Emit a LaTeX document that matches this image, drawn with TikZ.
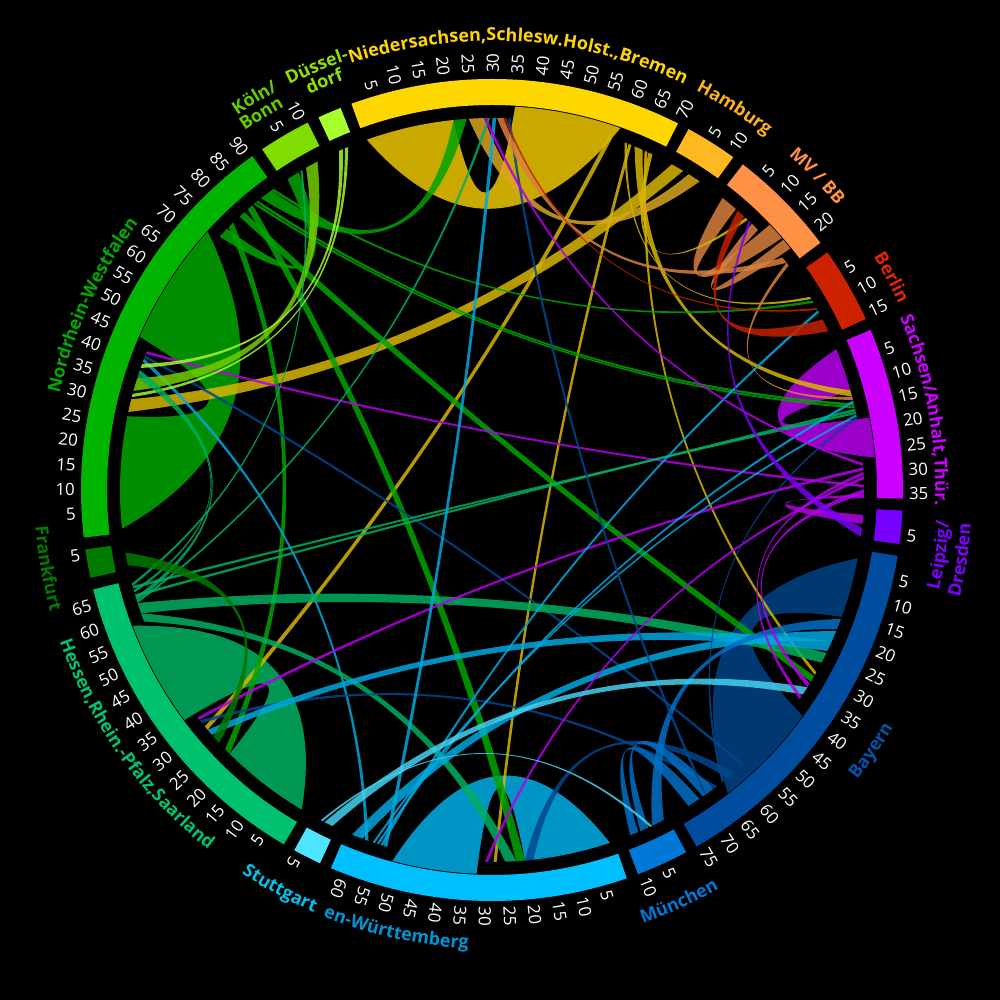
\documentclass[tikz,border=0pt]{standalone}
\usepackage{fontspec}
\setsansfont{Open Sans}
\usetikzlibrary{calc,decorations.text}

\definecolor{cNI}{HTML}{FFD700}
\definecolor{cHH}{HTML}{FFB81F}
\definecolor{cMV}{HTML}{FF9147}
\definecolor{cBE}{HTML}{CC2200}
\definecolor{cSN}{HTML}{CC00FF}
\definecolor{cLD}{HTML}{7700FF}
\definecolor{cBY}{HTML}{004C9E}
\definecolor{cMU}{HTML}{0078D7}
\definecolor{cBW}{HTML}{00BFFF}
\definecolor{cST}{HTML}{4CE4FF}
\definecolor{cHE}{HTML}{00C26E}
\definecolor{cFR}{HTML}{007A00}
\definecolor{cNW}{HTML}{00B400}
\definecolor{cKB}{HTML}{7FDD00}
\definecolor{cDU}{HTML}{A8FF2E}

\definecolor{kNI}{HTML}{D6B600}
\definecolor{sNI}{HTML}{D4B300}
\definecolor{kHH}{HTML}{D9A520}
\definecolor{kMV}{HTML}{D8803E}
\definecolor{kBE}{HTML}{C42200}
\definecolor{kSN}{HTML}{B400E6}
\definecolor{sSN}{HTML}{A400D4}
\definecolor{kLD}{HTML}{7A00F5}
\definecolor{kBY}{HTML}{00478F}
\definecolor{sBY}{HTML}{003C78}
\definecolor{kMU}{HTML}{0070C6}
\definecolor{kBW}{HTML}{00A8E0}
\definecolor{sBW}{HTML}{009ECF}
\definecolor{kST}{HTML}{45D2F0}
\definecolor{kHE}{HTML}{00AE62}
\definecolor{sHE}{HTML}{00A058}
\definecolor{kFR}{HTML}{007800}
\definecolor{kNW}{HTML}{00A400}
\definecolor{sNW}{HTML}{009600}
\definecolor{kKB}{HTML}{72CC00}
\definecolor{kDU}{HTML}{A6F530}

\definecolor{lNI}{HTML}{FFD700}
\definecolor{lHH}{HTML}{FFB31A}
\definecolor{lMV}{HTML}{FF9040}
\definecolor{lBE}{HTML}{E02800}
\definecolor{lSN}{HTML}{CC00FF}
\definecolor{lLD}{HTML}{8000FF}
\definecolor{lBY}{HTML}{0055AA}
\definecolor{lMU}{HTML}{0078D7}
\definecolor{lST}{HTML}{00C4EE}
\definecolor{lBW}{HTML}{0095D5}
\definecolor{lHE}{HTML}{00C46E}
\definecolor{lFR}{HTML}{007A00}
\definecolor{lNW}{HTML}{00AA00}
\definecolor{lKB}{HTML}{66CC00}
\definecolor{lDU}{HTML}{90E000}

\def\sNI{110}
\def\sHH{61.43}
\def\sMV{52.39}
\def\sBE{35.31}
\def\sSN{22.92}
\def\sLD{-2.87}
\def\sBY{-9.23}
\def\sMU{-61.82}
\def\sBW{-70.86}
\def\sST{-114.74}
\def\sHE{-120.43}
\def\sFR{-167.66}
\def\sNW{-173.35}
\def\sKB{-235.99}
\def\sDU{-245.03}

\tikzset{
  ch/.style={fill=#1, fill opacity=0.85},
  sf/.style={fill=#1, fill opacity=0.95},
  ticklbl/.style={text=white, inner sep=0.4pt, font=\sffamily\fontsize{4.8}{5}\selectfont},
  lbl/.style 2 args={decorate, decoration={text along path, text align=center,
    text={|\sffamily\bfseries\fontsize{5.1}{6}\selectfont\color{#1}|#2}}}
}

\newcommand{\ribbon}[8][3.72]{%
  \pgfmathsetmacro{\aA}{\csname s#3\endcsname-0.67*#4}%
  \pgfmathsetmacro{\aB}{\csname s#3\endcsname-0.67*#5}%
  \pgfmathsetmacro{\bA}{\csname s#6\endcsname-0.67*#7}%
  \pgfmathsetmacro{\bB}{\csname s#6\endcsname-0.67*#8}%
  \fill[#2] (\aA:#1) arc[start angle=\aA, end angle=\aB, radius=#1]
    .. controls ($0.527*(\aB:#1)+0.193*(\bA:3.72)$) and ($0.193*(\aB:#1)+0.527*(\bA:3.72)$) .. (\bA:3.72)
    arc[start angle=\bA, end angle=\bB, radius=3.72]
    .. controls ($0.527*(\bB:3.72)+0.193*(\aA:#1)$) and ($0.193*(\bB:3.72)+0.527*(\aA:#1)$) .. (\aA:#1);%
}

\begin{document}
\begin{tikzpicture}
        \fill[black] (-4.92,-5.10) rectangle (5.08,4.90);
        \useasboundingbox (-4.92,-5.10) rectangle (5.08,4.90);

        \foreach \sg/\len in {NI/70,HH/11,MV/23,BE/16,SN/36,LD/7,BY/76,MU/11,BW/63,ST/6,HE/68,FR/6,NW/91,KB/11,DU/5}{
            \pgfmathsetmacro{\segA}{\csname s\sg\endcsname}
            \pgfmathsetmacro{\segB}{\segA-0.67*\len}
            \fill[c\sg] (\segA:4.11) arc[start angle=\segA, end angle=\segB, radius=4.11]
                -- (\segB:3.85) arc[start angle=\segB, end angle=\segA, radius=3.85] -- cycle;
        }

        \foreach \sg/\nt in {NI/14,HH/2,MV/4,BE/3,SN/7,LD/1,BY/15,MU/2,BW/12,ST/1,HE/13,FR/1,NW/18,KB/2}{
            \foreach \i in {1,...,\nt}{
                \pgfmathsetmacro{\ta}{\csname s\sg\endcsname-3.35*\i}
                \pgfmathtruncatemacro{\tk}{5*\i}
                \pgfmathsetmacro{\tn}{mod(\ta+720,360)}
                \pgfmathtruncatemacro{\tf}{and(\tn>90,\tn<240)}
                \ifnum\tf=1
                    \node[ticklbl, rotate=\ta+180, anchor=east] (t\sg\i) at (\ta:4.15) {\tk};
                \else
                    \node[ticklbl, rotate=\ta, anchor=west] (t\sg\i) at (\ta:4.15) {\tk};
                \fi
            }
        }

        \ribbon[3.84]{sf=sNI}{NI}{35}{59}{NI}{0.5}{21}
        \ribbon[3.84]{sf=sNW}{NW}{45}{73}{NW}{1}{27}
        \ribbon[3.84]{sf=sHE}{HE}{34}{58}{HE}{0.5}{21.5}
        \ribbon[3.84]{sf=sBW}{BW}{32}{51}{BW}{1}{21}
        \ribbon[3.84]{sf=sBY}{BY}{40}{64}{BY}{2}{16}
        \ribbon[3.84]{sf=sSN}{SN}{18}{27}{SN}{1}{11}
        \ribbon[3.84]{ch=kMV}{MV}{13}{17}{MV}{1}{5}
        \ribbon[3.84]{ch=kMV}{MV}{17.5}{20}{MV}{10}{12}

        \ribbon{ch=kNI}{NI}{57}{58}{HE}{29}{30}
        \ribbon{ch=kNI}{NI}{62}{62.7}{BW}{27.5}{28.2}
        \ribbon{ch=kNI}{NI}{66}{66.7}{BY}{30}{30.7}
        \ribbon{ch=kNI}{NI}{63.5}{65.5}{SN}{11}{12.5}
        \ribbon{ch=kNI}{NI}{61}{61.6}{BE}{6}{6.6}
        \ribbon{ch=kNI}{NI}{67}{68}{MV}{8}{8.7}
        \ribbon{ch=kNI}{NW}{28}{31}{HH}{0.5}{3.5}
        \ribbon{ch=kHH}{HH}{5}{8}{NI}{24.5}{28}

        \ribbon{ch=kNW}{NW}{87}{90}{NI}{21}{24}
        \ribbon{ch=kNW}{NW}{90}{90.6}{BE}{7}{7.6}
        \ribbon{ch=kNW}{NW}{85.5}{86.1}{SN}{14.1}{14.7}
        \ribbon{ch=kNW}{NW}{84.8}{85.3}{SN}{14.8}{15.3}
        \ribbon{ch=kNW}{NW}{83}{84.5}{BW}{21}{23}
        \ribbon{ch=kNW}{NW}{80.5}{82}{BY}{31}{32.5}
        \ribbon{ch=kNW}{NW}{77}{78.5}{HE}{21.5}{23}
        \ribbon{ch=kNW}{NW}{74}{76.5}{KB}{1}{4}

        \ribbon{ch=kSN}{SN}{33}{33.6}{NW}{42}{42.6}
        \ribbon{ch=kBY}{BY}{57}{57.6}{NW}{41}{41.6}
        \ribbon{ch=kBW}{BW}{57.5}{58.3}{NW}{40}{40.8}
        \ribbon{ch=kKB}{KB}{6}{9}{NW}{33}{36}
        \ribbon{ch=kDU}{DU}{1}{2}{NW}{38.5}{39.5}
        \ribbon{ch=kDU}{DU}{2.5}{3.3}{NW}{31.5}{32.3}
        \ribbon{ch=kHE}{HE}{63}{64}{NW}{37}{38}
        \ribbon{ch=kHE}{HE}{65}{65.6}{NW}{36.3}{36.9}

        \ribbon{ch=kHE}{HE}{60}{62.5}{BY}{25}{27.5}
        \ribbon{ch=kHE}{HE}{64}{64.6}{SN}{15.4}{16}
        \ribbon{ch=kHE}{HE}{66}{66.6}{SN}{16.1}{16.6}
        \ribbon{ch=kHE}{HE}{62.5}{63}{NI}{28.8}{29.4}
        \ribbon{ch=kHE}{HE}{58}{60}{BW}{23}{25.5}
        \ribbon{ch=kHE}{HE}{66.6}{67.2}{KB}{4.5}{5}

        \ribbon{ch=kSN}{SN}{29}{29.7}{HE}{32}{32.7}
        \ribbon{ch=kBY}{BY}{65}{65.8}{HE}{31}{31.8}
        \ribbon{ch=kBW}{HE}{27.5}{29}{BY}{22}{24.5}
        \ribbon{ch=kFR}{FR}{1}{4}{HE}{25}{27}

        \ribbon{ch=kBW}{BW}{53}{53.8}{NI}{30}{30.8}
        \ribbon{ch=kBW}{BW}{55}{55.5}{SN}{13.4}{14}
        \ribbon{ch=kBW}{BW}{54}{54.6}{BE}{9.6}{10.2}
        \ribbon{ch=kBW}{BW}{56}{56.5}{SN}{16.7}{17.2}
        \ribbon{ch=kBW}{BW}{59}{61.5}{BY}{19.5}{22}
        \ribbon{ch=kSN}{SN}{31}{31.7}{BW}{29.5}{30.2}
        \ribbon{ch=kBY}{BY}{60}{62}{BW}{19}{21}

        \ribbon{ch=kMU}{MU}{1}{4}{BY}{16.5}{19}
        \ribbon{ch=kMU}{MU}{5}{7}{BY}{66}{69}
        \ribbon{ch=kMU}{MU}{7.5}{9.5}{BY}{70}{73}
        \ribbon{ch=kBY}{BY}{68}{68.6}{NI}{33.5}{34.1}
        \ribbon{ch=kBY}{BY}{63}{63.6}{SN}{17.3}{17.8}
        \ribbon{ch=kST}{ST}{1}{3}{BY}{34}{36}
        \ribbon{ch=kST}{ST}{3.5}{4}{MU}{4}{4.6}

        \ribbon{ch=kSN}{SN}{28}{28.7}{NI}{28}{28.7}
        \ribbon{ch=kSN}{SN}{34}{35.2}{BY}{33}{34}
        \ribbon{ch=kSN}{SN}{30}{30.8}{BY}{36.5}{37.3}
        \ribbon{ch=kSN}{SN}{35.2}{36}{LD}{1.5}{3.5}

        \ribbon{ch=kBE}{BE}{12}{15}{MV}{5.5}{7.5}
        \ribbon{ch=kMV}{MV}{20.5}{22}{NI}{31}{32.5}
        \ribbon{ch=kMV}{MV}{22}{22.8}{SN}{12.6}{13.3}
        \ribbon{ch=kBE}{BE}{9}{9.5}{NI}{32.6}{33.1}
        \ribbon{ch=kLD}{LD}{4.5}{6.5}{MV}{9}{9.6}

        \path[lbl={lNI}{Niedersachsen,Schlesw.Holst.,Bremen}] (146.5:4.49) arc[start angle=146.5, end angle=26.5, radius=4.49];
        \path[lbl={lHH}{Hamburg}] (117.6:4.48) arc[start angle=117.6, end angle=-2.4, radius=4.48];
        \path[lbl={lMV}{MV / BB}] (104:4.47) arc[start angle=104, end angle=-16, radius=4.47];
        \path[lbl={lBE}{Berlin}] (88:4.47) arc[start angle=88, end angle=-32, radius=4.47];
        \path[lbl={lSN}{Sachsen/Anhalt,Thür.}] (70.5:4.43) arc[start angle=70.5, end angle=-49.5, radius=4.43];
        \path[lbl={lNW}{Nordrhein-Westfalen}] (215.2:4.43) arc[start angle=215.2, end angle=95.2, radius=4.43];
        \path[lbl={lKB}{Köln/}] (181.2:4.53) arc[start angle=181.2, end angle=61.2, radius=4.53];
        \path[lbl={lKB}{Bonn}] (181.5:4.36) arc[start angle=181.5, end angle=61.5, radius=4.36];
        \path[lbl={lDU}{Düssel-}] (172.5:4.53) arc[start angle=172.5, end angle=52.5, radius=4.53];
        \path[lbl={lDU}{dorf}] (172.3:4.36) arc[start angle=172.3, end angle=52.3, radius=4.36];

        \path[lbl={lLD}{Leipzig/}] (-68.3:4.58) arc[start angle=-68.3, end angle=51.7, radius=4.58];
        \path[lbl={lLD}{Dresden}] (-68.5:4.80) arc[start angle=-68.5, end angle=51.5, radius=4.80];
        \path[lbl={lBY}{Bayern}] (-94.5:4.66) arc[start angle=-94.5, end angle=25.5, radius=4.66];
        \path[lbl={lMU}{München}] (-125.6:4.59) arc[start angle=-125.6, end angle=-5.6, radius=4.59];
        \path[lbl={lBW}{en-Württemberg}] (-162.3:4.59) arc[start angle=-162.3, end angle=-42.3, radius=4.59];
        \path[lbl={lST}{Stuttgart}] (-178:4.58) arc[start angle=-178, end angle=-58, radius=4.58];
        \path[lbl={lHE}{Hessen,Rhein.-Pfalz,Saarland}] (-204.5:4.58) arc[start angle=-204.5, end angle=-84.5, radius=4.58];
        \path[lbl={lFR}{Frankfurt}] (-230:4.58) arc[start angle=-230, end angle=-110, radius=4.58];
    \end{tikzpicture}
\end{document}
